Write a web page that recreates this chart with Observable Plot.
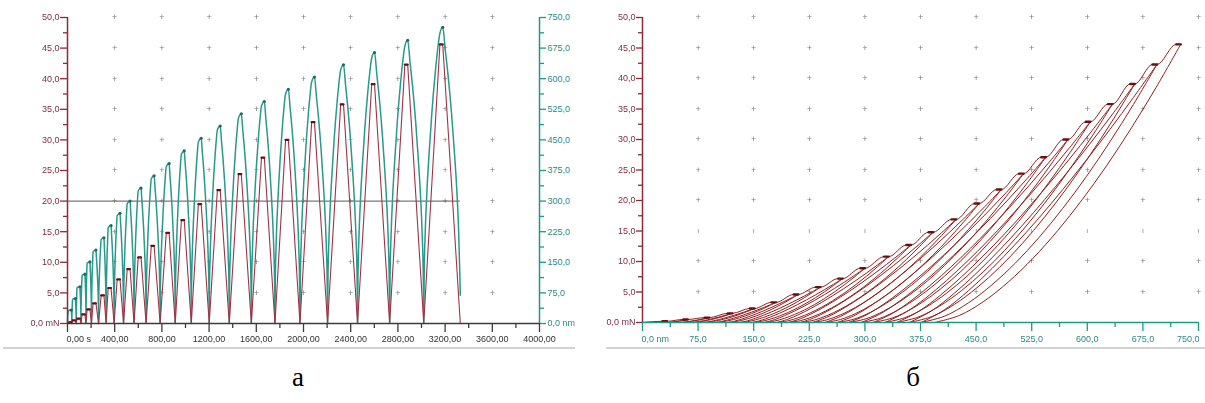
<!DOCTYPE html>
<html><head><meta charset="utf-8">
<script src="https://cdn.jsdelivr.net/npm/d3@7"></script>
<script src="https://cdn.jsdelivr.net/npm/@observablehq/plot@0.6"></script>
<style>
body{margin:0;background:#fff;}
#wrap{position:relative;width:1205px;height:403px;overflow:hidden;background:#fff;}
#left{position:absolute;left:0;top:0;}
#right{position:absolute;left:590px;top:0;}
.sep{position:absolute;top:347px;height:0;border-top:2px solid #d2d2d2;}
.cap{position:absolute;top:364px;line-height:27px;font-family:"Liberation Serif","Times New Roman",serif;font-size:27px;color:#000;transform:translateX(-50%);}
</style></head>
<body><div id="wrap">
<div id="left"></div><div id="right"></div>
<div class="sep" style="left:3px;width:572px"></div>
<div class="sep" style="left:606px;width:599px"></div>
<div class="cap" style="left:298px">а</div>
<div class="cap" style="left:913px">б</div>
</div>
<script>
// ---------------- data ----------------
// 24 load/unload cycles
const peakTimes = [20, 55, 93, 136, 178, 229, 297, 357, 433, 518, 611, 722, 849, 977, 1121, 1282, 1461, 1656, 1860, 2081, 2327, 2590, 2871, 3168]; // s
const valleyTimes = [0, 37, 74, 114, 157, 203, 263, 327, 395, 475, 564, 666, 785, 913, 1049, 1201, 1371, 1558, 1758, 1970, 2204, 2458, 2730, 3019, 3329]; // s
const peakLoads = [0.2, 0.5, 0.8, 1.5, 2.3, 3.3, 4.6, 5.8, 7.2, 8.9, 10.8, 12.7, 14.8, 16.9, 19.5, 21.8, 24.4, 27.1, 30.0, 32.9, 35.8, 39.1, 42.3, 45.6]; // mN
const peakDepths = [33, 61, 90, 121, 151, 180, 210, 240, 270, 300, 332, 362, 392, 423, 454, 484, 514, 544, 574, 604, 634, 664, 694, 726]; // nm
const residualDepths = [17, 33, 50, 66, 82, 98, 115, 131, 148, 164, 181, 197, 213, 229, 246, 263, 278, 295, 311, 327, 343, 360, 376, 394]; // nm
const holdTime = 24;      // s, plateau at peak load
const holdCreep = 6;      // nm, depth gained during hold
const finalDepth = 69;    // nm, last depth reading (left chart)
const cursorLoad = 20;    // mN, horizontal line on chart a

const archProfile = [[0, 0], [0.03, 0.17], [0.1, 0.32], [0.2, 0.45], [0.35, 0.59], [0.5, 0.71], [0.7, 0.84], [0.85, 0.92], [1, 0.98]];
const unloadProfile = [[0, 0], [0.1, 0.025], [0.2, 0.076], [0.3, 0.146], [0.4, 0.231], [0.5, 0.33], [0.6, 0.442], [0.7, 0.565], [0.8, 0.7], [0.9, 0.845], [1, 1]];
const reloadProfile = [[0, 0], [0.1, 0.05], [0.2, 0.123], [0.3, 0.209], [0.4, 0.304], [0.5, 0.406], [0.6, 0.515], [0.7, 0.629], [0.8, 0.748], [0.9, 0.872], [1, 1]];

// axes
const timeTicks = [0, 400, 800, 1200, 1600, 2000, 2400, 2800, 3200, 3600, 4000];
const timeMinor = [200, 600, 1000, 1400, 1800, 2200, 2600, 3000, 3400, 3800];
const loadTicks = [0, 5, 10, 15, 20, 25, 30, 35, 40, 45, 50];
const loadMinor = [2.5, 7.5, 12.5, 17.5, 22.5, 27.5, 32.5, 37.5, 42.5, 47.5];
const depthTicks = [0, 75, 150, 225, 300, 375, 450, 525, 600, 675, 750];
const depthMinor = [37.5, 112.5, 187.5, 262.5, 337.5, 412.5, 487.5, 562.5, 637.5, 712.5];
const depthMax = 750, loadMax = 50;

// ---------------- styling ----------------
const FONT = "'Liberation Sans', Arial, sans-serif";
const RED_AXIS = "#8c2b3a", RED_TEXT = "#7e2d45", RED_LINE = "#9e3445", RED_DARK = "#6a0f14";
const RED_CURVE = "#8e1f1f";
const TEAL = "#28998b", TEAL_DARK = "#1b6e63", TEAL_AXIS = "#1f9888", TEAL_TEXT = "#2b8a86";
const GRID = "#808080", DARK_AXIS = "#3c3c3c";
const fmt = (v, d) => v.toFixed(d).replace(".", ",");
const nm2mN = loadMax / depthMax;

// ---------------- chart a ----------------
const redPts = [], tealPts = [], plateaus = [], tealPeaks = [];
peakTimes.forEach((p, i) => {
  const v0 = valleyTimes[i], v1 = valleyTimes[i + 1];
  const hs = p - holdTime / 2, he = p + holdTime / 2;
  const L = peakLoads[i], D = peakDepths[i];
  redPts.push({t: v0, L: 0}, {t: hs, L}, {t: he, L});
  plateaus.push({t: hs, L, c: i}, {t: he, L, c: i});
  archProfile.forEach(([f, d], k) => { if (k < archProfile.length - 1) tealPts.push({t: v0 + f * (hs - v0), D: d * D}); });
  tealPts.push({t: hs, D: archProfile[archProfile.length - 1][1] * D}, {t: he, D});
  tealPeaks.push({t: he, D});
  const last = i === peakTimes.length - 1;
  for (let k = archProfile.length - 2; k >= 1; k--) {
    const [f, d] = archProfile[k];
    tealPts.push({t: v1 - f * (v1 - he), D: d * D});
  }
  if (last) tealPts.push({t: v1, D: finalDepth});
});
redPts.push({t: valleyTimes[valleyTimes.length - 1], L: 0});

const gridA = [];
timeTicks.slice(1, -1).forEach(x => loadTicks.slice(1).forEach(y => gridA.push({x, y})));

const chartA = Plot.plot({
  width: 590, height: 350,
  marginLeft: 67, marginRight: 51, marginTop: 17, marginBottom: 27,
  x: {domain: [0, 4000], axis: null},
  y: {domain: [0, loadMax], axis: null},
  style: {fontFamily: FONT, fontSize: "9px", background: "transparent", overflow: "visible"},
  marks: [
    Plot.text(gridA, {x: "x", y: "y", text: () => "+", fill: GRID, fontSize: 9}),
    Plot.ruleY([cursorLoad], {x1: 0, x2: valleyTimes[valleyTimes.length - 1], stroke: "#5e5454", strokeWidth: 1}),
    Plot.line(tealPts, {x: "t", y: d => d.D * nm2mN, stroke: TEAL, strokeWidth: 1.5, curve: "monotone-x"}),
    Plot.dot(tealPeaks, {x: "t", y: d => d.D * nm2mN, r: 1.6, fill: TEAL_DARK}),
    Plot.line(redPts, {x: "t", y: "L", stroke: RED_LINE, strokeWidth: 1.1}),
    Plot.line(plateaus, {x: "t", y: "L", z: "c", stroke: RED_DARK, strokeWidth: 2.2}),
    // axis lines
    Plot.ruleX([0], {y1: 0, y2: loadMax, stroke: RED_AXIS, strokeWidth: 1.5}),
    Plot.ruleX([4000], {y1: 0, y2: loadMax, stroke: TEAL_AXIS, strokeWidth: 1.5}),
    Plot.ruleY([0], {x1: 0, x2: 4000, stroke: DARK_AXIS, strokeWidth: 1.5}),
    // left axis (load)
    Plot.axisY({anchor: "left", ticks: loadTicks, tickSize: 7, tickPadding: 1, stroke: RED_AXIS, fill: RED_TEXT,
      tickFormat: d => d === 0 ? "0,0 mN" : fmt(d, 1), strokeWidth: 1.3}),
    Plot.axisY({anchor: "left", ticks: loadMinor, tickSize: 4, stroke: RED_AXIS, tickFormat: () => "", strokeWidth: 1.3}),
    // right axis (depth)
    Plot.axisY({anchor: "right", ticks: depthTicks.map(v => v * nm2mN), tickSize: 6, tickPadding: 2, stroke: TEAL_AXIS, fill: TEAL_TEXT,
      tickFormat: d => d === 0 ? "0,0 nm" : fmt(d / nm2mN, 1), strokeWidth: 1.3}),
    Plot.axisY({anchor: "right", ticks: depthMinor.map(v => v * nm2mN), tickSize: 4, stroke: TEAL_AXIS, tickFormat: () => "", strokeWidth: 1.3}),
    // bottom axis (time)
    Plot.axisX({anchor: "bottom", ticks: timeTicks, tickSize: 9, stroke: DARK_AXIS, tickFormat: () => "", strokeWidth: 1.3}),
    Plot.axisX({anchor: "bottom", ticks: timeMinor, tickSize: 5, stroke: DARK_AXIS, tickFormat: () => "", strokeWidth: 1.3}),
    Plot.text([0], {x: d => d, y: 0, dy: 16, text: () => "0,00 s", textAnchor: "start", dx: -1, fill: "#333"}),
    Plot.text(timeTicks.slice(1), {x: d => d, y: 0, dy: 16, text: d => fmt(d, 2), fill: "#333"})
  ]
});
document.getElementById("left").append(chartA);

// ---------------- chart б ----------------
const curves = [];
const envelope = [{h: 0, L: 0}];
const holds = [];
peakDepths.forEach((hmax, i) => {
  const L = peakLoads[i], hf = residualDepths[i];
  envelope.push({h: hmax - holdCreep, L}, {h: hmax, L});
  holds.push({h: hmax - holdCreep, L, c: i}, {h: hmax, L, c: i});
  unloadProfile.forEach(([p, q]) => curves.push({h: hf + p * (hmax - hf), L: q * L, c: "u" + i}));
  if (i > 0) {
    const h0 = residualDepths[i - 1], hp = peakDepths[i - 1], Lp = peakLoads[i - 1];
    reloadProfile.forEach(([p, q]) => curves.push({h: h0 + p * (hp - h0), L: q * Lp, c: "r" + i}));
  }
});

const gridB = [];
depthTicks.slice(1).forEach(x => loadTicks.slice(1).forEach(y => gridB.push({x, y})));

const chartB = Plot.plot({
  width: 615, height: 350,
  marginLeft: 52, marginRight: 7, marginTop: 17, marginBottom: 28,
  x: {domain: [0, depthMax], axis: null},
  y: {domain: [0, loadMax], axis: null},
  style: {fontFamily: FONT, fontSize: "9px", background: "transparent", overflow: "visible"},
  marks: [
    Plot.text(gridB.filter(d => d.y !== 15), {x: "x", y: "y", text: () => "+", fill: GRID, fontSize: 9}),
    Plot.text(gridB.filter(d => d.y === 15), {x: "x", y: "y", text: () => "ı", fill: GRID, fontSize: 7}),
    Plot.line(curves, {x: "h", y: "L", z: "c", stroke: RED_CURVE, strokeWidth: 1, curve: "catmull-rom"}),
    Plot.line(envelope, {x: "h", y: "L", stroke: RED_CURVE, strokeWidth: 1, curve: "monotone-x"}),
    Plot.line(holds, {x: "h", y: "L", z: "c", stroke: RED_DARK, strokeWidth: 2.4}),
    Plot.ruleX([0], {y1: 0, y2: loadMax, stroke: RED_AXIS, strokeWidth: 1.5}),
    Plot.ruleY([0], {x1: 0, x2: depthMax, stroke: TEAL_AXIS, strokeWidth: 1.5}),
    Plot.axisY({anchor: "left", ticks: loadTicks, tickSize: 6, tickPadding: 1, stroke: RED_AXIS, fill: RED_TEXT,
      tickFormat: d => d === 0 ? "0,0 mN" : fmt(d, 1), strokeWidth: 1.3}),
    Plot.axisY({anchor: "left", ticks: loadMinor, tickSize: 4, stroke: RED_AXIS, tickFormat: () => "", strokeWidth: 1.3}),
    Plot.axisX({anchor: "bottom", ticks: depthTicks, tickSize: 9, stroke: TEAL_AXIS, tickFormat: () => "", strokeWidth: 1.3}),
    Plot.axisX({anchor: "bottom", ticks: depthMinor, tickSize: 5, stroke: TEAL_AXIS, tickFormat: () => "", strokeWidth: 1.3}),
    Plot.text([0], {x: d => d, y: 0, dy: 17, text: () => "0,0 nm", textAnchor: "start", dx: -1, fill: TEAL_TEXT}),
    Plot.text(depthTicks.slice(1, -1), {x: d => d, y: 0, dy: 17, text: d => fmt(d, 1), fill: TEAL_TEXT}),
    Plot.text([depthMax], {x: d => d, y: 0, dy: 17, text: d => fmt(d, 1), textAnchor: "end", dx: 1, fill: TEAL_TEXT})
  ]
});
document.getElementById("right").append(chartB);

// grid crosses: render through a desaturating SVG filter (avoids coloured subpixel fringes)
[chartA, chartB].forEach((svg, k) => {
  const ns = "http://www.w3.org/2000/svg";
  const defs = document.createElementNS(ns, "defs");
  const filter = document.createElementNS(ns, "filter");
  filter.setAttribute("id", "gray" + k);
  const m = document.createElementNS(ns, "feColorMatrix");
  m.setAttribute("type", "saturate");
  m.setAttribute("values", "0");
  filter.append(m);
  defs.append(filter);
  svg.prepend(defs);
  svg.querySelectorAll("text").forEach(t => {
    if (t.textContent === "+" || t.textContent === "ı") t.parentNode.setAttribute("filter", `url(#gray${k})`);
  });
});
</script>
</body></html>
